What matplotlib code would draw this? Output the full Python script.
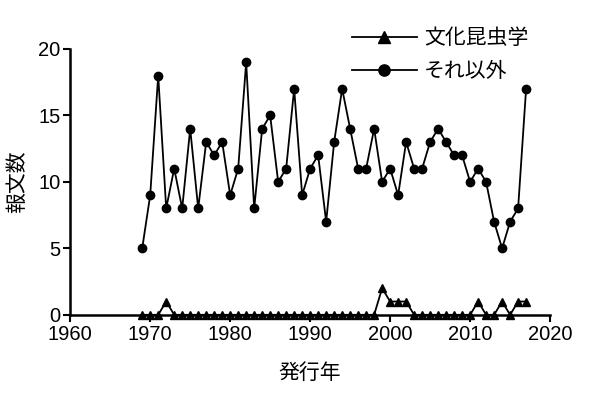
import numpy as np
import matplotlib
matplotlib.use('Agg')
from matplotlib import pyplot as plt

plt.rcParams['font.family'] = ['Liberation Sans', 'Noto Sans CJK JP']

years = list(range(1969, 2018))
# 文化昆虫学
bunka = [0, 0, 0, 1, 0, 0, 0, 0, 0, 0,
         0, 0, 0, 0, 0, 0, 0, 0, 0, 0,
         0, 0, 0, 0, 0, 0, 0, 0, 0, 0,
         2, 1, 1, 1, 0, 0, 0, 0, 0, 0,
         0, 0, 1, 0, 0, 1, 0, 1, 1]
# それ以外
other = [5, 9, 18, 8, 11, 8, 14, 8, 13, 12,
         13, 9, 11, 19, 8, 14, 15, 10, 11, 17,
         9, 11, 12, 7, 13, 17, 14, 11, 11, 14,
         10, 11, 9, 13, 11, 11, 13, 14, 13, 12,
         12, 10, 11, 10, 7, 5, 7, 8, 17]
xticks = [1960, 1970, 1980, 1990, 2000, 2010, 2020]
yticks = [0, 5, 10, 15, 20]

fig = plt.figure(figsize=(6.16, 3.98), dpi=100)
ax = fig.add_axes([0.114, 0.209, 0.779, 0.668])

ax.plot(years, bunka, 'k-', marker='^', markersize=6, linewidth=1.3,
        label='文化昆虫学', clip_on=False, zorder=3)
ax.plot(years, other, 'k-', marker='o', markersize=6, linewidth=1.3,
        label='それ以外', clip_on=False, zorder=3)

ax.set_xlim(1960, 2020)
ax.set_ylim(0, 20)
ax.set_xticks(xticks)
ax.set_yticks(yticks)
ax.tick_params(labelsize=14.5, width=1.5, length=5, direction='out', pad=2)
for s in ['top', 'right']:
    ax.spines[s].set_visible(False)
for s in ['left', 'bottom']:
    ax.spines[s].set_linewidth(1.8)

ax.set_xlabel('発行年', fontsize=15, labelpad=14)
ax.set_ylabel('報文数', fontsize=15, labelpad=8)

ax.legend(loc='upper left', bbox_to_anchor=(0.5875, 1.076), frameon=False,
          fontsize=15, handlelength=3.1, handletextpad=0.35, markerscale=1.35,
          labelspacing=0.65, borderaxespad=0, borderpad=0)

plt.savefig('out.png', dpi=100)
